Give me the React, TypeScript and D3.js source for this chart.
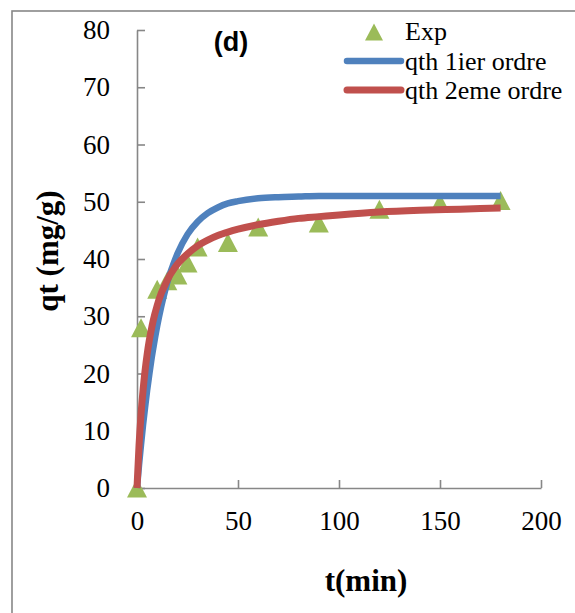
import { useEffect, useRef } from "react";
import * as d3 from "d3";

// Points expérimentaux (t en min, qt en mg/g)
const timeExp = [0, 2, 10, 15, 20, 25, 30, 45, 60, 90, 120, 150, 180];
const qExp = [0, 28, 34.7, 36.2, 37.2, 39.3, 42.1, 42.9, 45.6, 46.3, 48.7, 49.8, 50.2];

// Courbes des modèles
const timeModel = [0, 1, 2, 3, 4, 5, 6, 7, 8, 10, 12, 14, 16, 18, 20, 25, 30, 35, 40, 45, 50, 60, 70, 80, 90, 100, 120, 140, 160, 180];
const qFirst = [0, 4.0, 7.6, 11.0, 14.1, 17.0, 19.6, 22.1, 24.3, 28.3, 31.7, 34.6, 37.1, 39.1, 40.9, 44.3, 46.5, 48.0, 49.0, 49.7, 50.1, 50.6, 50.8, 50.9, 51.0, 51.0, 51.0, 51.0, 51.0, 51.0];
const qSecond = [0, 7.4, 12.9, 17.1, 20.5, 23.3, 25.6, 27.5, 29.2, 31.9, 34.0, 35.6, 37.0, 38.1, 39.1, 40.9, 42.3, 43.3, 44.1, 44.7, 45.2, 46.0, 46.6, 47.1, 47.4, 47.7, 48.2, 48.5, 48.7, 48.9];

const xTicks = [0, 50, 100, 150, 200];
const yTicks = [0, 10, 20, 30, 40, 50, 60, 70, 80];
const legendLabels = ["Exp", "qth 1ier ordre", "qth 2eme ordre"];

const width = 575;
const height = 613;
const serif = "'Liberation Serif', 'Times New Roman', serif";
const grey = "#878787";
const green = "#9BBB59";
const blue = "#4F81BD";
const red = "#C0504D";

const triangle = (cx: number, cy: number, w: number, h: number) =>
  `M${cx - w / 2},${cy + h / 2}L${cx + w / 2},${cy + h / 2}L${cx},${cy - h / 2}Z`;

const drawChart = (node: SVGSVGElement) => {
  const svg = d3.select(node);
  svg.selectAll("*").remove();

  svg.append("rect").attr("width", width).attr("height", height).attr("fill", "#fff");

  // cadre extérieur (coupé à droite et en bas)
  svg.append("rect")
    .attr("x", 12).attr("y", 11)
    .attr("width", 700).attr("height", 700)
    .attr("fill", "none").attr("stroke", grey).attr("stroke-width", 1.6);

  const x = d3.scaleLinear().domain([0, 200]).range([137, 541]);
  const y = d3.scaleLinear().domain([0, 80]).range([488, 30]);

  // axe Y
  const gy = svg.append("g")
    .attr("transform", `translate(${x(0)},0)`)
    .call(d3.axisLeft(y).tickValues(yTicks).tickSizeInner(-8).tickSizeOuter(0).tickPadding(27));
  gy.select(".domain").attr("stroke", grey).attr("stroke-width", 1.6);
  gy.selectAll(".tick line").attr("stroke", grey).attr("stroke-width", 1.6);
  gy.selectAll("text").attr("font-family", serif).attr("font-size", 27).attr("fill", "#000");

  // axe X
  const gx = svg.append("g")
    .attr("transform", `translate(0,${y(0)})`)
    .call(d3.axisBottom(x).tickValues(xTicks).tickSizeInner(-8).tickSizeOuter(0).tickPadding(23));
  gx.select(".domain").attr("stroke", grey).attr("stroke-width", 1.6);
  gx.selectAll(".tick line").attr("stroke", grey).attr("stroke-width", 1.6);
  gx.selectAll("text").attr("font-family", serif).attr("font-size", 27).attr("fill", "#000");

  // titres des axes
  svg.append("text")
    .attr("transform", "translate(58,251) rotate(-90)")
    .attr("text-anchor", "middle")
    .attr("font-family", serif).attr("font-weight", "bold").attr("font-size", 31)
    .text("qt (mg/g)");
  svg.append("text")
    .attr("x", 366).attr("y", 591)
    .attr("text-anchor", "middle")
    .attr("font-family", serif).attr("font-weight", "bold").attr("font-size", 31)
    .text("t(min)");

  svg.append("text")
    .attr("x", 231).attr("y", 51)
    .attr("text-anchor", "middle")
    .attr("font-family", "'Liberation Sans', Arial, sans-serif").attr("font-weight", "bold").attr("font-size", 27)
    .text("(d)");

  // points expérimentaux
  svg.append("g")
    .selectAll("path")
    .data(timeExp.map((t, i) => [t, qExp[i]]))
    .join("path")
    .attr("d", d => triangle(x(d[0]), y(d[1]), 20, 19))
    .attr("fill", green);

  const line = d3.line<number>()
    .x(i => x(timeModel[i]))
    .curve(d3.curveMonotoneX);

  svg.append("path")
    .datum(d3.range(timeModel.length))
    .attr("d", line.y(i => y(qFirst[i])))
    .attr("fill", "none").attr("stroke", blue).attr("stroke-width", 6.5);

  svg.append("path")
    .datum(d3.range(timeModel.length))
    .attr("d", line.y(i => y(qSecond[i])))
    .attr("fill", "none").attr("stroke", red).attr("stroke-width", 7);

  // légende
  const leg = svg.append("g");
  const rows = [40, 70, 99];
  leg.append("path").attr("d", triangle(374, 32, 18, 17)).attr("fill", green);
  leg.append("line").attr("x1", 347).attr("x2", 401).attr("y1", 61).attr("y2", 61)
    .attr("stroke", blue).attr("stroke-width", 6.5).attr("stroke-linecap", "round");
  leg.append("line").attr("x1", 347).attr("x2", 401).attr("y1", 90).attr("y2", 90)
    .attr("stroke", red).attr("stroke-width", 7).attr("stroke-linecap", "round");
  leg.selectAll("text")
    .data(legendLabels)
    .join("text")
    .attr("x", 405)
    .attr("y", (d, i) => rows[i])
    .attr("font-family", serif).attr("font-size", 26)
    .text(d => d);
};

export default function App() {
  const ref = useRef<SVGSVGElement>(null);

  useEffect(() => {
    if (ref.current) drawChart(ref.current);
  }, []);

  return (
    <svg
      ref={ref}
      width={width}
      height={height}
      style={{ position: "absolute", left: 0, top: 0 }}
    />
  );
}
